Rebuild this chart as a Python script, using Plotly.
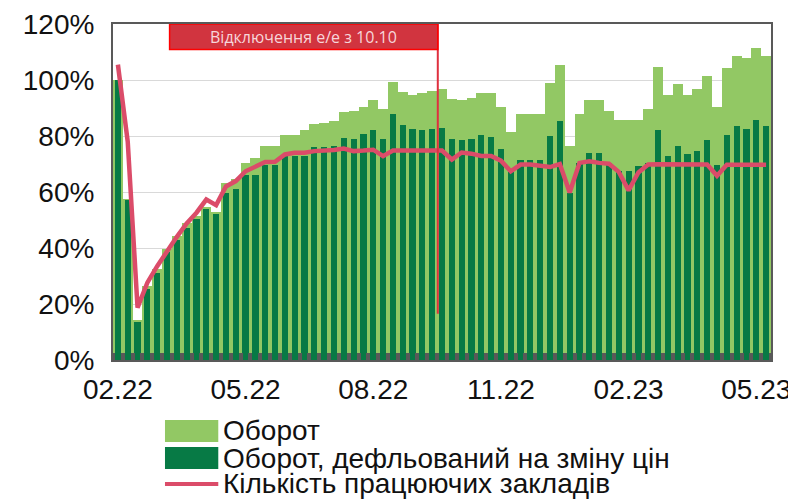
import pandas as pd
import plotly.graph_objects as go

# Weekly observations (index 100% = first week)
week_start = "2022-02-24"
n_weeks = 67
dates = pd.date_range(week_start, periods=n_weeks, freq="7D")

turnover = [100, 57.5, 14.4, 26.4, 32.6, 39.7, 44.2, 48.8, 51.4, 54.5,
            52.8, 63.3, 64.8, 70.4, 72.0, 76.4, 76.4, 80.5, 80.5, 82.3,
            84.3, 84.5, 85.3, 88.5, 88.9, 90.4, 92.7, 89.5, 99.3, 95.7,
            94.8, 95.2, 96.0, 96.9, 93.2, 92.9, 93.6, 95.4, 95.4, 90.5,
            81.5, 87.7, 87.7, 87.7, 98.8, 105.2, 76.5, 87.7, 92.8, 92.8,
            88.8, 85.8, 85.8, 85.8, 89.6, 104.5, 94.5, 98.6, 94.6, 96.7,
            101.6, 90.5, 104.4, 108.4, 107.9, 111.5, 108.5]

turnover_real = [100, 57.0, 13.5, 25.2, 31.1, 38.6, 43.0, 47.3, 50.4, 53.8,
                 52.2, 59.5, 60.9, 65.9, 66.2, 69.6, 69.8, 72.8, 73.0, 73.0,
                 76.1, 76.1, 76.6, 79.3, 79.0, 80.8, 82.1, 79.0, 87.9, 83.9,
                 82.6, 82.1, 82.6, 82.9, 78.9, 78.5, 78.9, 80.2, 79.7, 75.3,
                 67.2, 71.6, 71.6, 71.3, 79.9, 85.3, 59.5, 70.4, 74.0, 74.0,
                 70.4, 67.5, 67.5, 69.2, 70.3, 82.0, 73.0, 76.6, 73.4, 74.8,
                 78.5, 69.8, 80.3, 83.4, 82.6, 85.6, 83.4]

working_venues = [105.5, 78.0, 18.7, 27.6, 33.5, 39.0, 44.0, 48.8, 52.6, 57.3,
                  55.3, 62.0, 63.9, 67.4, 69.2, 70.7, 70.8, 73.4, 74.0, 74.0,
                  74.6, 74.6, 75.0, 75.5, 74.6, 74.8, 75.1, 72.8, 74.8, 74.8,
                  74.8, 74.8, 74.8, 74.8, 71.6, 74.1, 73.7, 72.9, 72.9, 71.2,
                  67.4, 69.8, 69.8, 69.5, 68.9, 70.0, 59.8, 70.4, 71.0, 70.4,
                  70.1, 67.2, 60.6, 67.0, 69.8, 69.9, 69.8, 69.8, 69.8, 69.8,
                  69.8, 65.8, 69.7, 69.7, 69.7, 69.7, 69.7]

tick_positions = [0, 13, 26, 39, 52, 65]
y_ticks = [0, 20, 40, 60, 80, 100, 120]
y_ticktext = [f"{v}%" for v in y_ticks]

series_names = ["Оборот", "Оборот, дефльований на зміну цін", "Кількість працюючих закладів"]

event_date = "2022-10-10"
event_label = "Відключення е/е з 10.10"
event_line_bottom = 16.5
box_left_date = "2022-04-01 20:00"
box_bottom = 110.9

WEEK = pd.Timedelta(days=7)
WEEK_MS = 7 * 24 * 3600 * 1000
LIGHT = "#92C864"
DARK = "#077A45"
LINE = "#DB4C69"
AXIS = "#595959"
TXT = "#111111"
FONT = "Liberation Sans, Arial, sans-serif"

fig = go.Figure()
fig.add_trace(go.Bar(x=dates, y=turnover, name=series_names[0],
                     marker=dict(color=LIGHT, line=dict(width=0)),
                     width=WEEK_MS, showlegend=False))
fig.add_trace(go.Bar(x=dates, y=turnover_real, name=series_names[1],
                     marker=dict(color=DARK, line=dict(width=0)),
                     width=WEEK_MS * 0.63, showlegend=False))
fig.add_trace(go.Scatter(x=dates, y=working_venues, name=series_names[2],
                         mode="lines", line=dict(color=LINE, width=4.5),
                         showlegend=False))

# event marker
fig.add_shape(type="line", xref="x", yref="y", x0=event_date, x1=event_date,
              y0=event_line_bottom, y1=120, line=dict(color="#E0303F", width=2))
fig.add_shape(type="rect", xref="x", yref="y", x0=box_left_date, x1=event_date,
              y0=box_bottom, y1=120, fillcolor="#D1343F",
              line=dict(color="#FF0000", width=1.5))
fig.add_annotation(x=pd.Timestamp(box_left_date) + (pd.Timestamp(event_date) - pd.Timestamp(box_left_date)) / 2,
                   y=(box_bottom + 120) / 2, xref="x", yref="y",
                   text=event_label, showarrow=False,
                   font=dict(family="Open Sans, sans-serif", size=16, color="#F7D6DA"))

# legend (drawn below the plot, stacked)
leg_x0, leg_x1, leg_tx = 0.079, 0.160, 0.166
leg_rows = [-0.2113, -0.2917, -0.369]
leg_colors = [LIGHT, DARK, LINE]
for i, (name, col, yc) in enumerate(zip(series_names, leg_colors, leg_rows)):
    if i < 2:
        fig.add_shape(type="rect", xref="paper", yref="paper",
                      x0=leg_x0, x1=leg_x1, y0=yc - 0.033, y1=yc + 0.033,
                      fillcolor=col, line=dict(width=0))
    else:
        fig.add_shape(type="line", xref="paper", yref="paper",
                      x0=leg_x0, x1=leg_x1, y0=yc, y1=yc,
                      line=dict(color=col, width=4))
    fig.add_annotation(x=leg_tx, y=yc, xref="paper", yref="paper",
                       xanchor="left", yanchor="middle", showarrow=False,
                       borderpad=0,
                       text=name, font=dict(family=FONT, size=28, color=TXT))

x0 = dates[0] - WEEK / 2
x1 = dates[-1] + WEEK / 2
boundaries = [d - WEEK / 2 for d in dates] + [x1]

# the page adds an 8px body margin, so the figure is 8px smaller than the window
fig.update_layout(
    width=788, height=494,
    margin=dict(l=105, r=25, t=16, b=142),
    paper_bgcolor="white", plot_bgcolor="white",
    barmode="overlay", bargap=0,
    font=dict(family=FONT, size=28, color=TXT),
    showlegend=False,
)
fig.update_xaxes(
    type="date", range=[x0, x1], automargin=False,
    tickvals=[dates[i] for i in tick_positions], tickformat="%m.%y",
    ticks="", showgrid=False, ticklabelstandoff=3,
    showline=True, linecolor=AXIS, linewidth=2, mirror=True,
    minor=dict(tickmode="array", tickvals=boundaries, ticks="inside", ticklen=7,
               tickwidth=4, tickcolor=AXIS, showgrid=False),
    tickfont=dict(family=FONT, size=28, color=TXT),
    layer="above traces",
)
fig.update_yaxes(
    range=[0, 120], tickvals=y_ticks, ticktext=y_ticktext, automargin=False,
    showgrid=True, gridcolor="#D9D9D9", gridwidth=1,
    showline=True, linecolor=AXIS, linewidth=2, mirror=True,
    ticks="", zeroline=False, ticklabelstandoff=11,
    tickfont=dict(family=FONT, size=28, color=TXT),
    layer="below traces",
)

fig.write_html("out.html")
